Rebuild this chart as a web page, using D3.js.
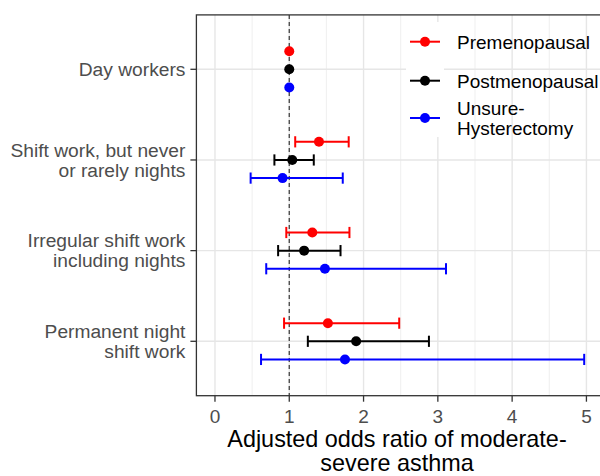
<!DOCTYPE html>
<html><head><meta charset="utf-8">
<script src="https://cdn.jsdelivr.net/npm/d3@7"></script>
<style>body{margin:0;background:#fff}svg{display:block;font-family:"Liberation Sans",Arial,sans-serif}</style>
</head><body><svg id="c" width="600" height="476"></svg>
<script>
const categories = ["Day workers", "Shift work, but never\nor rarely nights", "Irregular shift work\nincluding nights", "Permanent night\nshift work"];
const groups = ["Premenopausal", "Postmenopausal", "Unsure-\nHysterectomy"];
const colors = ["#FF0000", "#000000", "#0000FF"];
// per group: estimate, lower, upper for each category
const est = [[1.0, 1.40, 1.31, 1.52],[1.0, 1.04, 1.20, 1.90],[1.0, 0.91, 1.48, 1.75]];
const lower = [[1.0, 1.08, 0.96, 0.93],[1.0, 0.80, 0.85, 1.25],[1.0, 0.48, 0.69, 0.62]];
const upper = [[1.0, 1.80, 1.81, 2.48],[1.0, 1.33, 1.69, 2.88],[1.0, 1.72, 3.11, 4.97]];
const xTicks = [0, 1, 2, 3, 4, 5];
const xMinor = [0.5, 1.5, 2.5, 3.5, 4.5];
const refLine = 1;

const svg = d3.select("#c");
const L = 196.4, R = 605, T = 14.9, B = 395.7;
const x = d3.scaleLinear().domain([-0.25, 5.25]).range([L, R]);
const y = d3.scalePoint().domain(categories).range([T, B]).padding(0.6);
const dodge = y.step() * 0.2;

svg.append("rect").attr("x", L).attr("y", T).attr("width", R - L).attr("height", B - T).attr("fill", "#fff");
const grid = svg.append("g");
grid.selectAll(".mn").data(xMinor).join("line").attr("x1", d => x(d)).attr("x2", d => x(d)).attr("y1", T).attr("y2", B).attr("stroke", "#EBEBEB").attr("stroke-width", 0.8);
grid.selectAll(".mj").data(xTicks).join("line").attr("x1", d => x(d)).attr("x2", d => x(d)).attr("y1", T).attr("y2", B).attr("stroke", "#E6E6E6").attr("stroke-width", 1.4);
grid.selectAll(".hy").data(categories).join("line").attr("x1", L).attr("x2", R).attr("y1", d => y(d)).attr("y2", d => y(d)).attr("stroke", "#E6E6E6").attr("stroke-width", 1.4);

// legend keys (white background squares)
const legY = [41.7, 80.7, 118];
const keyTop = [22, 61, 100], keyBot = [61, 100, 137];
const leg = svg.append("g");
groups.forEach((g, i) => {
  leg.append("rect").attr("x", 406).attr("y", keyTop[i]).attr("width", 38).attr("height", keyBot[i] - keyTop[i]).attr("fill", "#fff");
});

// reference dashed line
svg.append("line").attr("x1", x(refLine)).attr("x2", x(refLine)).attr("y1", T).attr("y2", B)
  .attr("stroke", "#444").attr("stroke-width", 1.3).attr("stroke-dasharray", "4,3");

// error bars and points
groups.forEach((g, gi) => {
  const off = (gi - 1) * dodge;
  const gg = svg.append("g").attr("stroke", colors[gi]).attr("fill", colors[gi]);
  categories.forEach((c, ci) => {
    const yy = y(c) + off;
    if (upper[gi][ci] > lower[gi][ci]) {
      gg.append("line").attr("x1", x(lower[gi][ci])).attr("x2", x(upper[gi][ci])).attr("y1", yy).attr("y2", yy).attr("stroke-width", 2);
      [lower[gi][ci], upper[gi][ci]].forEach(v => gg.append("line").attr("x1", x(v)).attr("x2", x(v)).attr("y1", yy - 5.6).attr("y2", yy + 5.6).attr("stroke-width", 2));
    }
    gg.append("circle").attr("cx", x(est[gi][ci])).attr("cy", yy).attr("r", 5).attr("stroke", "none");
  });
});

// legend contents
groups.forEach((g, i) => {
  leg.append("line").attr("x1", 410).attr("x2", 440).attr("y1", legY[i]).attr("y2", legY[i]).attr("stroke", colors[i]).attr("stroke-width", 2);
  leg.append("circle").attr("cx", 425).attr("cy", legY[i]).attr("r", 5).attr("fill", colors[i]);
  const lines = g.split("\n");
  const t = leg.append("text").attr("x", 457).attr("font-size", 19).attr("fill", "#000");
  const lh = 19.5;
  lines.forEach((ln, k) => {
    t.append("tspan").attr("x", 457).attr("y", legY[i] + 6.8 + (k - (lines.length - 1) / 2) * lh).text(ln);
  });
});

// panel border
svg.append("rect").attr("x", L).attr("y", T).attr("width", R - L).attr("height", B - T).attr("fill", "none").attr("stroke", "#333").attr("stroke-width", 1.3);

// x axis
const xa = svg.append("g");
xa.selectAll("line").data(xTicks).join("line").attr("x1", d => x(d)).attr("x2", d => x(d)).attr("y1", B).attr("y2", B + 6).attr("stroke", "#333").attr("stroke-width", 1.3);
xa.selectAll("text").data(xTicks).join("text").attr("x", d => x(d)).attr("y", B + 27).attr("text-anchor", "middle").attr("font-size", 19).attr("fill", "#4D4D4D").text(d => d);

// y axis
const ya = svg.append("g");
ya.selectAll("line").data(categories).join("line").attr("x1", L - 6).attr("x2", L).attr("y1", d => y(d)).attr("y2", d => y(d)).attr("stroke", "#333").attr("stroke-width", 1.3);
categories.forEach(c => {
  const lines = c.split("\n");
  const t = ya.append("text").attr("text-anchor", "end").attr("font-size", 19.2).attr("fill", "#4D4D4D");
  const lh = 20;
  lines.forEach((ln, k) => {
    t.append("tspan").attr("x", L - 11).attr("y", y(c) + 6.6 + (k - (lines.length - 1) / 2) * lh).text(ln);
  });
});

// x title
const title = svg.append("text").attr("text-anchor", "middle").attr("font-size", 23.4).attr("fill", "#000");
["Adjusted odds ratio of moderate-", "severe asthma"].forEach((ln, k) => {
  title.append("tspan").attr("x", 397).attr("y", 446.5 + k * 24).text(ln);
});
</script></body></html>
